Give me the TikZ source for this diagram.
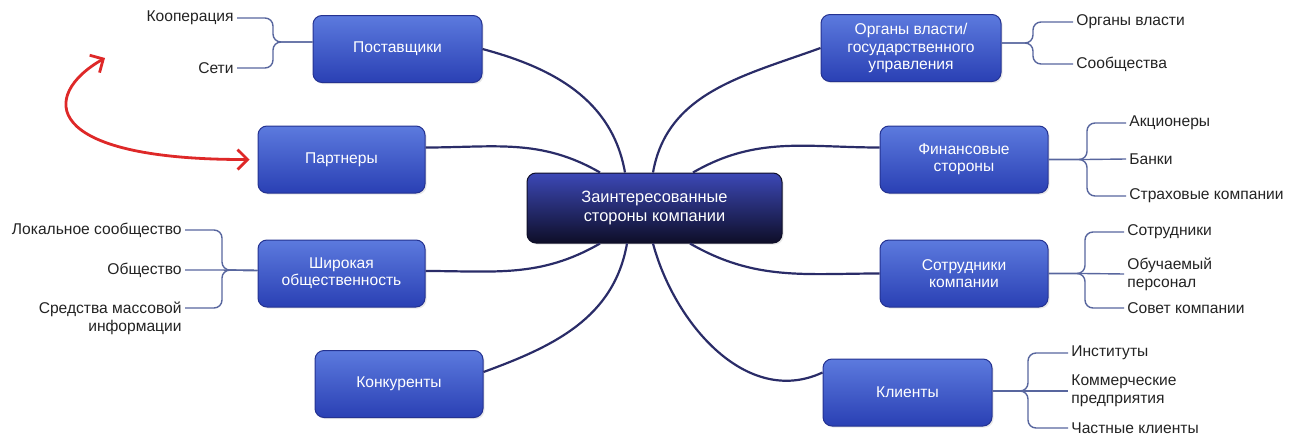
\documentclass[tikz,border=0pt]{standalone}
\usepackage{fontspec}
\setmainfont{Liberation Sans}
\usetikzlibrary{arrows.meta,shadows}
\definecolor{boxtop}{RGB}{92,122,222}
\definecolor{boxbot}{RGB}{42,64,180}
\definecolor{boxedge}{RGB}{36,50,145}
\definecolor{ctrtop}{RGB}{60,72,182}
\definecolor{ctrbot}{RGB}{14,14,40}
\definecolor{connc}{RGB}{42,44,104}
\definecolor{brkc}{RGB}{88,102,158}
\definecolor{txtc}{RGB}{35,35,35}
\definecolor{redc}{RGB}{222,40,40}
\begin{document}
\begin{tikzpicture}[x=0.5pt,y=0.5pt,
  box/.style={draw=boxedge, line width=0.5pt, rounded corners=4.5pt,
    top color=boxtop, bottom color=boxbot, text=white,
    font=\fontsize{7.8}{8.6}\selectfont, align=center, inner sep=0pt,
    minimum height=33.5pt,
    drop shadow={opacity=0.18, shadow xshift=0.8pt, shadow yshift=-0.8pt}},
  cbox/.style={box, top color=ctrtop, bottom color=ctrbot, draw=ctrbot,
    font=\fontsize{8.2}{9.5}\selectfont, minimum height=35pt, minimum width=127.5pt},
  subl/.style={anchor=east, text=txtc, font=\fontsize{7.8}{9}\selectfont, align=right, inner sep=1.5pt},
  subr/.style={anchor=west, text=txtc, font=\fontsize{7.8}{9}\selectfont, align=left, inner sep=1.5pt},
  conn/.style={draw=connc, line width=1.1pt},
  brk/.style={draw=brkc, line width=0.7pt, rounded corners=4pt},
  redarr/.style={draw=redc, line width=1.4pt,
    {Straight Barb[length=5pt,width=10pt]}-{Straight Barb[length=5pt,width=10pt]}}
]
\useasboundingbox (0,0) rectangle (1292,-439);

% main boxes
\node[cbox] (ctr) at (654.5,-208) {Заинтересованные\\стороны компании};
\node[box, minimum width=84.5pt] (sup)  at (397.5,-49)   {Поставщики};
\node[box, minimum width=83.5pt] (par)  at (341.5,-159.5) {Партнеры};
\node[box, minimum width=83.5pt] (shir) at (341.5,-273.5) {Широкая\\общественность};
\node[box, minimum width=84pt]   (konk) at (399,-384)    {Конкуренты};
\node[box, minimum width=90pt]   (org)  at (911,-48)     {Органы власти/\\государственного\\управления};
\node[box, minimum width=84pt]   (fin)  at (964,-159.5)  {Финансовые\\стороны};
\node[box, minimum width=84pt]   (sotr) at (964,-273.5)  {Сотрудники\\компании};
\node[box, minimum width=84.5pt] (kli)  at (907.5,-392.5) {Клиенты};

% connectors to centre
\draw[conn] (sup.east) to[out=-15,in=100] ([xshift=-14.75pt]ctr.north);
\draw[conn] ([yshift=6pt]par.east) to[out=0,in=150] ([xshift=-27.25pt]ctr.north);
\draw[conn] ([yshift=1.25pt]shir.east) to[out=0,in=-150] ([xshift=-27.25pt]ctr.south);
\draw[conn] ([yshift=6pt]konk.east) to[out=20,in=-100] ([xshift=-13.75pt]ctr.south);
\draw[conn] (org.west) to[out=200,in=80] ([xshift=-0.75pt]ctr.north);
\draw[conn] ([yshift=6pt]fin.west) to[out=180,in=30] ([xshift=19.25pt]ctr.north);
\draw[conn] (sotr.west) to[out=180,in=-30] ([xshift=17.75pt]ctr.south);
\draw[conn] ([yshift=10pt]kli.west) to[out=205,in=-75] ([xshift=-0.75pt]ctr.south);

% left children
\node[subl] (koop) at (237,-18) {Кооперация};
\node[subl] (seti) at (237,-68) {Сети};
\node[subl] (lok)  at (185,-230) {Локальное сообщество};
\node[subl] (obsh) at (185,-270) {Общество};
\node[subl, anchor=north east] (smi) at (185,-299) {Средства массовой\\информации};

% right children
\node[subr] (org1) at (1073,-22) {Органы власти};
\node[subr] (org2) at (1073,-64) {Сообщества};
\node[subr] (fin1) at (1126,-123) {Акционеры};
\node[subr] (fin2) at (1126,-159) {Банки};
\node[subr] (fin3) at (1126,-196) {Страховые компании};
\node[subr] (sot1) at (1124,-232) {Сотрудники};
\node[subr] (sot2) at (1124,-274) {Обучаемый\\персонал};
\node[subr] (sot3) at (1124,-308) {Совет компании};
\node[subr] (kl1)  at (1068,-353) {Институты};
\node[subr] (kl2)  at (1068,-391) {Коммерческие\\предприятия};
\node[subr] (kl3)  at (1068,-428) {Частные клиенты};

% brackets
\draw[brk] ([yshift=3.5pt]sup.west) -- (273,-42) |- (koop.east);
\draw[brk] ([yshift=3.5pt]sup.west) -- (273,-42) |- (seti.east);
\draw[brk] ([yshift=1.5pt]shir.west) -- (222,-270) |- (lok.east);
\draw[brk] ([yshift=1.5pt]shir.west) -- (222,-270) -- (obsh.east);
\draw[brk] ([yshift=1.5pt]shir.west) -- (222,-270) |- ([yshift=-4.5pt]smi.north east);

\draw[brk] ([yshift=2.5pt]org.east) -- (1033,-43) |- (org1.west);
\draw[brk] ([yshift=2.5pt]org.east) -- (1033,-43) |- (org2.west);
\draw[brk] (fin.east) -- (1087,-159.5) |- (fin1.west);
\draw[brk] (fin.east) -- (1087,-159.5) -- (fin2.west);
\draw[brk] (fin.east) -- (1087,-159.5) |- (fin3.west);
\draw[brk] (sotr.east) -- (1085,-273.5) |- (sot1.west);
\draw[brk] (sotr.east) -- (1085,-273.5) -- (sot2.west);
\draw[brk] (sotr.east) -- (1085,-273.5) |- (sot3.west);
\draw[brk] ([yshift=0.75pt]kli.east) -- (1028,-391) |- (kl1.west);
\draw[brk] ([yshift=0.75pt]kli.east) -- (1028,-391) -- (kl2.west);
\draw[brk] ([yshift=0.75pt]kli.east) -- (1028,-391) |- (kl3.west);

% red double arrow
\coordinate (rs) at (105,-58);
\draw[redarr] (rs) .. controls (40,-95) and (40,-160) .. ([xshift=-4pt]par.west);
\end{tikzpicture}
\end{document}
